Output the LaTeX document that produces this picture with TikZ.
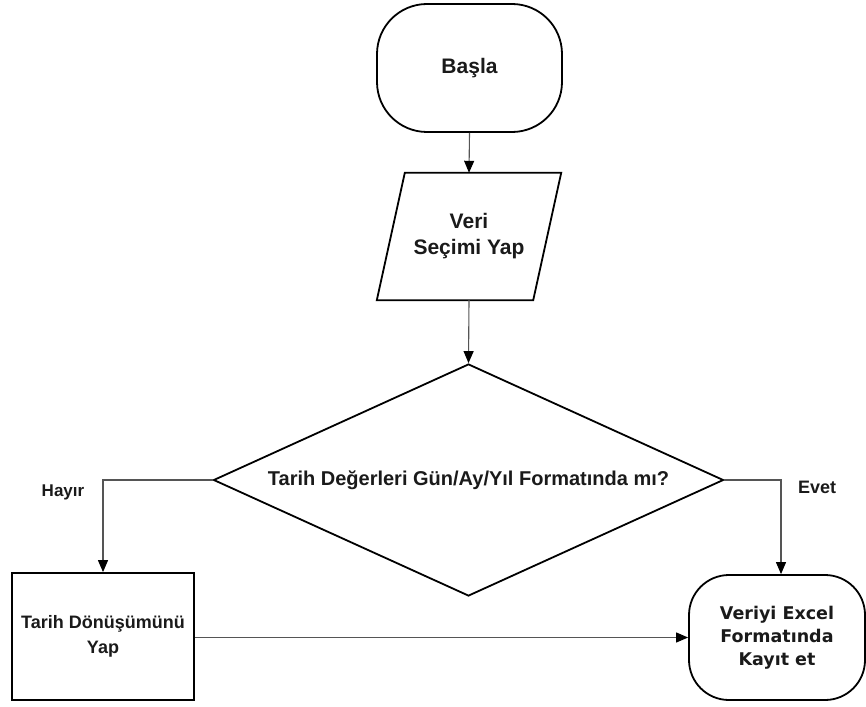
\documentclass[tikz,border=0pt]{standalone}
\usepackage{fontspec}
\setmainfont{Liberation Sans}
\newfontfamily\verdanafont{DejaVu Sans}
\usetikzlibrary{shapes.geometric,arrows.meta}
\definecolor{txt}{HTML}{1A1A1A}
\definecolor{conn}{HTML}{555555}
\tikzset{
  shapeline/.style={draw=black, line width=1.8pt, text=txt, font=\bfseries, align=center, inner sep=0pt},
  termbox/.style={shapeline, rectangle},
  iotext/.style={text=txt, font=\bfseries, align=center, inner sep=0pt, rectangle},
  decbox/.style={shapeline, diamond},
  procbox/.style={shapeline, rectangle},
  conline/.style={draw=conn, line width=1.1pt, -{Triangle[length=12pt,width=10pt,fill=black,color=black]}},
  lbl/.style={text=txt, font=\bfseries, inner sep=0pt}
}
\begin{document}
\begin{tikzpicture}[x=1pt,y=-1pt]
\useasboundingbox (0,0) rectangle (866,706);
\fill[white] (0,0) rectangle (866,706);

\node[termbox, rounded corners=50pt, minimum width=185pt, minimum height=128pt, font=\bfseries\fontsize{21}{24}\selectfont] (basla) at (469.5,68) {Başla};

\node[iotext, minimum width=156pt, minimum height=127pt, font=\bfseries\fontsize{21}{26}\selectfont] (veri) at (469,236.5) {Veri\\Seçimi Yap};
\draw[line width=1.8pt, line join=miter] ([xshift=14pt]veri.north west) -- ([xshift=14pt]veri.north east) -- ([xshift=-14pt]veri.south east) -- ([xshift=-14pt]veri.south west) -- cycle;

\node[decbox, aspect=2.2, minimum width=510pt, minimum height=232pt, font=\bfseries\fontsize{20}{24}\selectfont] (karar) at (468.5,480) {Tarih Değerleri Gün/Ay/Yıl Formatında mı?};

\node[procbox, minimum width=182pt, minimum height=127pt, font=\bfseries\fontsize{18}{25}\selectfont] (donus) at (103,636.5) {Tarih Dönüşümünü\\Yap};

\node[termbox, rounded corners=40pt, minimum width=176pt, minimum height=125pt, font=\verdanafont\bfseries\fontsize{17.5}{23}\selectfont] (kayit) at (777,637.5) {Veriyi Excel\\Formatında\\Kayıt et};

\coordinate (evetdown) at ([xshift=4pt]kayit.north);

\draw[conline] (basla.south) -- (veri.north);
\draw[conline] (veri.south) -- (karar.north);
\draw[conline] (karar.west) -| (donus.north);
\draw[conline] (karar.east) -| (evetdown);
\draw[conline] (donus.east |- kayit.west) -- (kayit.west);

\node[lbl, font=\bfseries\fontsize{17}{20}\selectfont] (hayir) at (63,492) {Hayır};
\node[lbl, font=\bfseries\fontsize{18}{20}\selectfont] (evet) at (817,487) {Evet};
\end{tikzpicture}
\end{document}
